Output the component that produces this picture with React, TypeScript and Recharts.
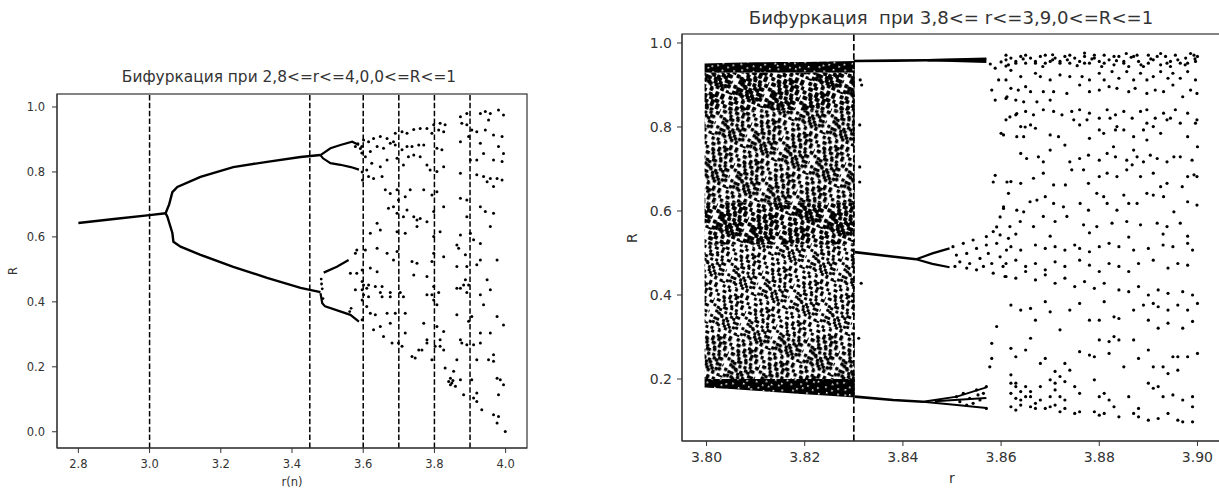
import React from 'react';
import { ComposedChart, Scatter, Area, XAxis, YAxis, ReferenceLine } from 'recharts';

type Pt = [number, number];

// ---------- left panel: 2.8 <= r <= 4.0 ----------
const leftTicksX = [2.8, 3.0, 3.2, 3.4, 3.6, 3.8, 4.0];
const leftTicksY = [0.0, 0.2, 0.4, 0.6, 0.8, 1.0];
const leftMarkers = [3.0, 3.45, 3.6, 3.7, 3.8, 3.9];

// stable fixed point and the period-doubling branches
const leftFixed: Pt[] = [[2.8, 0.643], [2.9, 0.655], [3.0, 0.667], [3.045, 0.673]];
const leftUpper: Pt[] = [[3.045, 0.673], [3.055, 0.70], [3.064, 0.738], [3.078, 0.754], [3.143, 0.785], [3.235, 0.815], [3.33, 0.831], [3.424, 0.846], [3.48, 0.852]];
const leftLower: Pt[] = [[3.045, 0.673], [3.05, 0.662], [3.064, 0.612], [3.067, 0.585], [3.087, 0.57], [3.143, 0.545], [3.235, 0.508], [3.33, 0.474], [3.424, 0.443], [3.48, 0.43]];
const leftUpperHi: Pt[] = [[3.48, 0.852], [3.508, 0.873], [3.536, 0.883], [3.569, 0.893], [3.588, 0.883]];
const leftUpperLo: Pt[] = [[3.48, 0.852], [3.487, 0.842], [3.508, 0.827], [3.536, 0.822], [3.565, 0.815], [3.588, 0.807]];
const leftLowerHi: Pt[] = [[3.489, 0.49], [3.526, 0.508], [3.559, 0.529]];
const leftLowerLo: Pt[] = [[3.48, 0.427], [3.485, 0.396], [3.493, 0.386], [3.564, 0.36], [3.588, 0.339]];
const leftTransient: Pt[] = [[3.482, 0.47], [3.483, 0.455], [3.485, 0.44], [3.487, 0.41], [3.562, 0.37], [3.566, 0.38]];

// chaotic part, one dot per iterate
const leftChaos: Pt[] = [
  [3.596, 0.878], [3.596, 0.858], [3.597, 0.8], [3.598, 0.775], [3.597, 0.437], [3.597, 0.406], [3.597, 0.345],
  [3.585, 0.887], [3.592, 0.872], [3.578, 0.878],
  [3.601, 0.898], [3.615, 0.893], [3.629, 0.903], [3.648, 0.909], [3.667, 0.903], [3.685, 0.893], [3.69, 0.919], [3.709, 0.924],
  [3.723, 0.919], [3.742, 0.931], [3.76, 0.934], [3.779, 0.934], [3.798, 0.945], [3.816, 0.95], [3.83, 0.945], [3.826, 0.924],
  [3.812, 0.929], [3.793, 0.919], [3.77, 0.883], [3.756, 0.883], [3.737, 0.878], [3.723, 0.878], [3.709, 0.868], [3.69, 0.883],
  [3.676, 0.888], [3.657, 0.873], [3.639, 0.878], [3.62, 0.863], [3.606, 0.847], [3.624, 0.827], [3.648, 0.816], [3.667, 0.837],
  [3.695, 0.842], [3.713, 0.821], [3.727, 0.847], [3.742, 0.852], [3.76, 0.847], [3.779, 0.821], [3.788, 0.806], [3.807, 0.801],
  [3.826, 0.816], [3.807, 0.873], [3.821, 0.868], [3.61, 0.806], [3.615, 0.786], [3.629, 0.78], [3.653, 0.786], [3.662, 0.745],
  [3.676, 0.734], [3.695, 0.745], [3.699, 0.714], [3.718, 0.724], [3.732, 0.745], [3.671, 0.688], [3.685, 0.693], [3.695, 0.673],
  [3.713, 0.662], [3.723, 0.683], [3.742, 0.662], [3.751, 0.652], [3.76, 0.657], [3.779, 0.647], [3.798, 0.678], [3.826, 0.693],
  [3.793, 0.729], [3.807, 0.739], [3.77, 0.745], [3.639, 0.642], [3.648, 0.621], [3.62, 0.611], [3.695, 0.616], [3.718, 0.611],
  [3.751, 0.632], [3.798, 0.601], [3.816, 0.616], [3.606, 0.56], [3.639, 0.565], [3.667, 0.55], [3.695, 0.555], [3.685, 0.529],
  [3.737, 0.524], [3.751, 0.519], [3.793, 0.524], [3.798, 0.55], [3.826, 0.539], [3.582, 0.56], [3.578, 0.55], [3.564, 0.488],
  [3.582, 0.488], [3.597, 0.498], [3.62, 0.504], [3.639, 0.493], [3.61, 0.442], [3.648, 0.429], [3.676, 0.429], [3.704, 0.429],
  [3.742, 0.483], [3.779, 0.478], [3.798, 0.447], [3.812, 0.429], [3.578, 0.437], [3.597, 0.463],
  [3.873, 0.97], [3.891, 0.98], [3.877, 0.95], [3.891, 0.945], [3.929, 0.98], [3.943, 0.986], [3.957, 0.98], [3.98, 0.991],
  [3.994, 0.975], [3.952, 0.96], [3.905, 0.929], [3.896, 0.909], [3.919, 0.924], [3.943, 0.929], [3.966, 0.914], [3.99, 0.909],
  [3.873, 0.893], [3.929, 0.888], [3.98, 0.878], [3.901, 0.837], [3.919, 0.837], [3.938, 0.857], [3.966, 0.837], [3.994, 0.857],
  [3.99, 0.832], [3.873, 0.796], [3.919, 0.791], [3.938, 0.786], [3.957, 0.78], [3.976, 0.78], [3.99, 0.775], [3.948, 0.77],
  [3.966, 0.755], [3.873, 0.719], [3.891, 0.714], [3.929, 0.693], [3.943, 0.678], [3.966, 0.673], [3.891, 0.662], [3.957, 0.632],
  [3.873, 0.606], [3.901, 0.611], [3.91, 0.591], [3.929, 0.58], [3.863, 0.575], [3.868, 0.565], [3.887, 0.545], [3.929, 0.529],
  [3.976, 0.529], [3.863, 0.509], [3.891, 0.509], [3.919, 0.514], [3.887, 0.468], [3.948, 0.468], [3.873, 0.442], [3.891, 0.429],
  [3.957, 0.437],
  [3.601, 0.452], [3.615, 0.452], [3.634, 0.447], [3.653, 0.447], [3.601, 0.422], [3.615, 0.416], [3.653, 0.416], [3.676, 0.416],
  [3.61, 0.386], [3.62, 0.365], [3.634, 0.36], [3.667, 0.365], [3.648, 0.324], [3.629, 0.314], [3.676, 0.334], [3.69, 0.365],
  [3.713, 0.416], [3.718, 0.365], [3.718, 0.304], [3.699, 0.273], [3.709, 0.263], [3.657, 0.293], [3.681, 0.273], [3.737, 0.232],
  [3.746, 0.227], [3.756, 0.252], [3.765, 0.252], [3.779, 0.273], [3.779, 0.283], [3.77, 0.334], [3.779, 0.422], [3.793, 0.422],
  [3.798, 0.406], [3.807, 0.391], [3.807, 0.324], [3.826, 0.309], [3.816, 0.283], [3.816, 0.263], [3.802, 0.263], [3.793, 0.222],
  [3.826, 0.252], [3.863, 0.442], [3.882, 0.452], [3.896, 0.452], [3.929, 0.422], [3.938, 0.391], [3.863, 0.36], [3.896, 0.34],
  [3.905, 0.355], [3.873, 0.283], [3.877, 0.273], [3.891, 0.268], [3.91, 0.268], [3.929, 0.273], [3.929, 0.304], [3.957, 0.304],
  [3.976, 0.355], [3.994, 0.329], [3.952, 0.222], [3.966, 0.237], [3.966, 0.217], [3.919, 0.222], [3.863, 0.222], [3.83, 0.196],
  [3.854, 0.186], [3.84, 0.155], [3.849, 0.15], [3.859, 0.14], [3.873, 0.16], [3.882, 0.114], [3.905, 0.16], [3.919, 0.119],
  [3.933, 0.068], [3.976, 0.165], [3.994, 0.145], [3.985, 0.16], [3.98, 0.114], [3.966, 0.052], [3.98, 0.047], [3.976, 0.027],
  [3.999, 0.001], [3.91, 0.104], [3.919, 0.093], [3.845, 0.165], [3.852, 0.158], [3.845, 0.145],
];

// ---------- right panel: 3.8 <= r <= 3.9 ----------
const rightTicksX = [3.8, 3.82, 3.84, 3.86, 3.88, 3.9];
const rightTicksY = [0.2, 0.4, 0.6, 0.8, 1.0];
const rightMarkers = [3.83];

// saturated chaotic block before the period-3 window: r, lower edge, upper edge
const denseBand: [number, number, number][] = [
  [3.7996, 0.18, 0.951], [3.805, 0.176, 0.953], [3.81, 0.172, 0.954], [3.815, 0.168, 0.955],
  [3.82, 0.164, 0.955], [3.825, 0.16, 0.956], [3.8302, 0.156, 0.957],
];
// how crowded the iterates are inside that block, by R range
const denseLayers: [number, number, string][] = [
  [0.93, 1.0, 'solid'], [0.84, 0.93, 'heavy'], [0.62, 0.84, 'mid'], [0.52, 0.62, 'heavy'],
  [0.3, 0.52, 'light'], [0.2, 0.3, 'mid'], [0.0, 0.2, 'solid'],
];

// period-3 window branches
const rightTop: Pt[] = [[3.83, 0.957], [3.838, 0.958], [3.845, 0.959], [3.857, 0.96]];
const rightTopHi: Pt[] = [[3.845, 0.959], [3.857, 0.963]];
const rightTopLo: Pt[] = [[3.845, 0.959], [3.857, 0.955]];
const rightMid: Pt[] = [[3.8302, 0.502], [3.836, 0.494], [3.8427, 0.485]];
const rightMidHi: Pt[] = [[3.8427, 0.485], [3.846, 0.499], [3.8495, 0.511]];
const rightMidLo: Pt[] = [[3.8427, 0.485], [3.846, 0.474], [3.8495, 0.466]];
const rightLow: Pt[] = [[3.8302, 0.158], [3.838, 0.15], [3.8441, 0.146]];
const rightLowHi: Pt[] = [[3.8441, 0.146], [3.851, 0.158], [3.857, 0.18]];
const rightLowLo: Pt[] = [[3.8441, 0.146], [3.851, 0.138], [3.857, 0.131]];
const rightLowMid: Pt[] = [[3.8465, 0.147], [3.857, 0.155]];

const rightChaos: Pt[] = [
  // transients along r = 3.83
  [3.8313, 0.912], [3.8316, 0.9], [3.8312, 0.805], [3.8312, 0.705], [3.8312, 0.669], [3.8315, 0.428], [3.831, 0.297],
  // window break-up, middle and lower branches
  [3.8502, 0.515], [3.8509, 0.495], [3.8516, 0.479], [3.8506, 0.468], [3.8523, 0.523], [3.853, 0.499], [3.8536, 0.475],
  [3.8543, 0.531], [3.855, 0.511], [3.8557, 0.487], [3.8564, 0.468], [3.857, 0.539], [3.8574, 0.499], [3.8581, 0.475],
  [3.8584, 0.452], [3.8591, 0.523], [3.8598, 0.491], [3.8604, 0.468], [3.8608, 0.444], [3.8598, 0.543], [3.8611, 0.507],
  [3.8615, 0.535], [3.855, 0.46], [3.853, 0.464], [3.8584, 0.551], [3.857, 0.519],
  [3.8509, 0.158], [3.8523, 0.166], [3.8536, 0.154], [3.855, 0.174], [3.8557, 0.15], [3.8564, 0.166], [3.857, 0.182],
  [3.857, 0.13], [3.8543, 0.142], [3.8516, 0.146], [3.853, 0.138], [3.8553, 0.162],
  [3.8591, 0.325], [3.8581, 0.285], [3.8581, 0.249], [3.8577, 0.229],
  [3.8595, 0.912], [3.8581, 0.888], [3.8612, 0.872], [3.8588, 0.864], [3.8618, 0.824], [3.8605, 0.781], [3.8635, 0.888],
  [3.8632, 0.777], [3.8588, 0.685], [3.8584, 0.669], [3.8612, 0.669], [3.8615, 0.642], [3.8605, 0.61], [3.8598, 0.586],
  [3.8591, 0.562], [3.8632, 0.832], [3.8649, 0.8], [3.8578, 0.95], [3.8588, 0.94], [3.86, 0.955], [3.861, 0.945], [3.862, 0.935],
  // fully chaotic region, upper band
  [3.861, 0.96], [3.862, 0.964], [3.863, 0.956], [3.864, 0.968], [3.865, 0.952], [3.866, 0.964], [3.867, 0.956], [3.868, 0.968],
  [3.869, 0.952], [3.871, 0.964], [3.872, 0.956], [3.873, 0.968], [3.874, 0.952], [3.875, 0.964], [3.876, 0.956], [3.877, 0.968],
  [3.878, 0.952], [3.879, 0.964], [3.88, 0.956], [3.881, 0.971], [3.882, 0.96], [3.883, 0.948], [3.884, 0.968], [3.885, 0.956],
  [3.886, 0.944], [3.887, 0.968], [3.888, 0.956], [3.889, 0.944], [3.89, 0.971], [3.891, 0.96], [3.8925, 0.948], [3.8935, 0.968],
  [3.8945, 0.956], [3.8955, 0.971], [3.8965, 0.952], [3.8976, 0.964], [3.8986, 0.975], [3.8996, 0.956], [3.9, 0.968],
  [3.861, 0.971], [3.863, 0.952], [3.865, 0.971], [3.867, 0.952], [3.869, 0.971], [3.87, 0.956], [3.872, 0.952], [3.874, 0.971],
  [3.877, 0.952], [3.879, 0.971], [3.881, 0.952], [3.883, 0.968], [3.885, 0.952], [3.8877, 0.971], [3.89, 0.952], [3.8918, 0.968],
  [3.8938, 0.952], [3.896, 0.96], [3.898, 0.952], [3.8993, 0.971],
  [3.8615, 0.948], [3.8645, 0.962], [3.8685, 0.944], [3.8705, 0.972], [3.8735, 0.96], [3.8755, 0.946], [3.8785, 0.962],
  [3.8805, 0.944], [3.8835, 0.958], [3.8865, 0.966], [3.8885, 0.948], [3.8905, 0.962], [3.8945, 0.944], [3.8975, 0.948],
  [3.8995, 0.962], [3.8925, 0.975], [3.8855, 0.975], [3.877, 0.976], [3.8705, 0.96],
  [3.861, 0.912], [3.864, 0.92], [3.867, 0.928], [3.868, 0.92], [3.87, 0.912], [3.872, 0.924], [3.874, 0.92], [3.8765, 0.92],
  [3.878, 0.912], [3.88, 0.928], [3.881, 0.912], [3.8826, 0.932], [3.884, 0.916], [3.8856, 0.932], [3.887, 0.912], [3.8884, 0.928],
  [3.8897, 0.912], [3.891, 0.92], [3.8925, 0.932], [3.894, 0.916], [3.895, 0.928], [3.8965, 0.916], [3.898, 0.932], [3.8996, 0.912],
  [3.862, 0.892], [3.865, 0.896], [3.866, 0.884], [3.8686, 0.884], [3.8707, 0.884], [3.8734, 0.88], [3.876, 0.9], [3.878, 0.884],
  [3.88, 0.888], [3.882, 0.896], [3.8836, 0.892], [3.886, 0.884], [3.8873, 0.892], [3.8897, 0.88], [3.8914, 0.888], [3.8931, 0.884],
  [3.895, 0.9], [3.897, 0.872], [3.8986, 0.888], [3.8999, 0.88], [3.863, 0.864], [3.8646, 0.86], [3.8673, 0.86], [3.87, 0.864],
  [3.861, 0.868],
  [3.861, 0.817], [3.863, 0.829], [3.865, 0.837], [3.8666, 0.829], [3.8686, 0.841], [3.8707, 0.837], [3.8724, 0.829], [3.8744, 0.837],
  [3.876, 0.841], [3.878, 0.833], [3.88, 0.821], [3.8816, 0.841], [3.8833, 0.829], [3.885, 0.837], [3.8867, 0.821], [3.8884, 0.837],
  [3.8897, 0.841], [3.8914, 0.821], [3.8931, 0.833], [3.8945, 0.821], [3.8955, 0.841], [3.898, 0.833], [3.8999, 0.817],
  [3.864, 0.801], [3.866, 0.805], [3.867, 0.797], [3.8748, 0.817], [3.876, 0.805], [3.8775, 0.817], [3.88, 0.793], [3.8822, 0.821],
  [3.8836, 0.801], [3.8897, 0.809], [3.891, 0.801], [3.8938, 0.817], [3.8965, 0.809], [3.8996, 0.809], [3.86, 0.785], [3.8646, 0.777],
  [3.87, 0.781], [3.8717, 0.777], [3.878, 0.773], [3.8809, 0.785], [3.8833, 0.793], [3.885, 0.793], [3.887, 0.777], [3.889, 0.793],
  [3.8925, 0.785], [3.898, 0.777], [3.9, 0.753], [3.8897, 0.769],
  [3.864, 0.737], [3.8652, 0.725], [3.8676, 0.729], [3.8686, 0.717], [3.87, 0.745], [3.873, 0.757], [3.874, 0.717], [3.876, 0.725],
  [3.8778, 0.733], [3.88, 0.721], [3.8816, 0.737], [3.8829, 0.753], [3.8833, 0.729], [3.8856, 0.721], [3.887, 0.745], [3.8877, 0.729],
  [3.889, 0.717], [3.8904, 0.733], [3.8918, 0.725], [3.8938, 0.717], [3.8952, 0.729], [3.8965, 0.729], [3.8989, 0.721],
  [3.862, 0.67], [3.864, 0.666], [3.8666, 0.678], [3.8686, 0.69], [3.8707, 0.662], [3.8731, 0.662], [3.8744, 0.698], [3.8768, 0.698],
  [3.8778, 0.666], [3.88, 0.682], [3.8816, 0.69], [3.8836, 0.682], [3.8856, 0.698], [3.8867, 0.71], [3.8884, 0.682], [3.891, 0.69],
  [3.8925, 0.658], [3.8938, 0.666], [3.8969, 0.658], [3.898, 0.682], [3.8993, 0.686], [3.8999, 0.682],
  [3.8605, 0.606], [3.8632, 0.602], [3.8646, 0.598], [3.8659, 0.622], [3.8673, 0.626], [3.869, 0.634], [3.8707, 0.618], [3.8727, 0.61],
  [3.8734, 0.587], [3.8761, 0.618], [3.8778, 0.602], [3.8795, 0.642], [3.8809, 0.634], [3.8816, 0.618], [3.8836, 0.602], [3.885, 0.638],
  [3.886, 0.618], [3.8877, 0.618], [3.8897, 0.642], [3.891, 0.638], [3.8931, 0.634], [3.8952, 0.598], [3.898, 0.622], [3.8999, 0.614],
  [3.8618, 0.563], [3.8639, 0.575], [3.8666, 0.563], [3.8686, 0.587], [3.871, 0.575], [3.8768, 0.567], [3.8795, 0.563], [3.8826, 0.571],
  [3.8856, 0.575], [3.8884, 0.567], [3.8918, 0.571], [3.8938, 0.563], [3.8965, 0.571],
  [3.863, 0.545], [3.87, 0.54], [3.878, 0.548], [3.886, 0.538], [3.893, 0.545], [3.898, 0.54],
  // lower half
  [3.862, 0.515], [3.864, 0.507], [3.867, 0.519], [3.869, 0.511], [3.871, 0.515], [3.873, 0.507], [3.875, 0.519], [3.876, 0.511],
  [3.878, 0.503], [3.88, 0.515], [3.882, 0.523], [3.884, 0.515], [3.887, 0.507], [3.89, 0.511], [3.893, 0.519], [3.895, 0.515],
  [3.898, 0.523], [3.899, 0.507],
  [3.861, 0.475], [3.863, 0.483], [3.865, 0.468], [3.867, 0.475], [3.869, 0.46], [3.871, 0.479], [3.873, 0.468], [3.876, 0.483],
  [3.878, 0.471], [3.88, 0.456], [3.882, 0.475], [3.884, 0.468], [3.886, 0.456], [3.888, 0.475], [3.891, 0.483], [3.894, 0.464],
  [3.896, 0.475], [3.898, 0.471],
  [3.861, 0.444], [3.863, 0.44], [3.865, 0.456], [3.867, 0.436], [3.869, 0.448], [3.871, 0.428], [3.873, 0.44], [3.875, 0.42],
  [3.877, 0.432], [3.879, 0.416], [3.881, 0.428], [3.884, 0.412], [3.886, 0.408], [3.888, 0.42], [3.89, 0.4], [3.892, 0.412],
  [3.894, 0.404], [3.897, 0.408], [3.899, 0.4],
  [3.862, 0.376], [3.864, 0.364], [3.866, 0.368], [3.867, 0.34], [3.869, 0.384], [3.87, 0.36], [3.872, 0.317], [3.874, 0.364],
  [3.876, 0.38], [3.878, 0.34], [3.88, 0.34], [3.881, 0.384], [3.883, 0.348], [3.884, 0.344], [3.887, 0.364], [3.889, 0.376],
  [3.891, 0.38], [3.892, 0.372], [3.894, 0.364], [3.896, 0.376], [3.898, 0.364], [3.9, 0.38], [3.89, 0.34], [3.892, 0.321],
  [3.894, 0.333], [3.897, 0.321], [3.899, 0.337],
  [3.862, 0.273], [3.863, 0.253], [3.865, 0.269], [3.866, 0.297], [3.868, 0.237], [3.869, 0.249], [3.871, 0.218], [3.873, 0.237],
  [3.874, 0.221], [3.876, 0.265], [3.878, 0.257], [3.879, 0.253], [3.88, 0.293], [3.882, 0.289], [3.883, 0.301], [3.884, 0.293],
  [3.887, 0.293], [3.888, 0.249], [3.89, 0.269], [3.891, 0.229], [3.893, 0.229], [3.895, 0.253], [3.896, 0.253], [3.898, 0.253],
  [3.9, 0.261], [3.882, 0.261], [3.885, 0.229],
  [3.862, 0.21], [3.863, 0.19], [3.864, 0.17], [3.865, 0.182], [3.866, 0.158], [3.868, 0.182], [3.87, 0.198], [3.871, 0.174],
  [3.872, 0.158], [3.873, 0.194], [3.875, 0.182], [3.876, 0.166], [3.879, 0.198], [3.88, 0.158], [3.881, 0.166], [3.882, 0.15],
  [3.883, 0.134], [3.886, 0.158], [3.888, 0.13], [3.89, 0.19], [3.891, 0.178], [3.893, 0.158], [3.895, 0.162], [3.897, 0.15],
  [3.899, 0.158], [3.894, 0.213], [3.896, 0.221], [3.892, 0.182],
  [3.862, 0.134], [3.863, 0.126], [3.864, 0.138], [3.866, 0.134], [3.867, 0.13], [3.869, 0.13], [3.871, 0.138], [3.872, 0.122],
  [3.873, 0.13], [3.875, 0.118], [3.876, 0.122], [3.879, 0.122], [3.88, 0.114], [3.881, 0.118], [3.884, 0.11], [3.887, 0.118],
  [3.888, 0.11], [3.89, 0.102], [3.892, 0.106], [3.894, 0.118], [3.896, 0.102], [3.897, 0.098], [3.899, 0.098], [3.899, 0.134],
  [3.862, 0.166], [3.863, 0.182], [3.862, 0.19], [3.863, 0.154], [3.864, 0.15], [3.865, 0.158], [3.866, 0.17], [3.867, 0.142],
  [3.868, 0.15], [3.87, 0.158], [3.871, 0.19], [3.872, 0.206], [3.873, 0.15], [3.87, 0.134],
];

// halftone tile used to shade the saturated block (tile is 34 x 44 px)
const speck: Pt[] = [
  [2, 1], [9, 3], [15, 0], [22, 2], [28, 4], [5, 6], [12, 8], [19, 6], [25, 9], [0, 11], [7, 12], [14, 13], [21, 11], [27, 15],
  [3, 16], [10, 18], [17, 17], [23, 19], [30, 20], [1, 22], [8, 24], [13, 21], [19, 24], [26, 25], [5, 27], [11, 29], [17, 30],
  [24, 28], [29, 31], [2, 33], [9, 34], [15, 33], [21, 35], [27, 36], [6, 38], [12, 39], [18, 38], [25, 40], [31, 41], [0, 42],
];
const toneSize: Record<string, number> = { heavy: 3.9, mid: 3.4, light: 3.1 };

const rows = (pts: Pt[]) => pts.map(([r, R]) => ({ r, R }));

const INK = '#000';
const AXIS = '#333';
const FONT = '"DejaVu Sans", sans-serif';

// panel layout: chart box, margins and axis sizes
type Layout = { left: number; w: number; h: number; top: number; right: number; yAxisW: number; xAxisH: number };
const leftLayout: Layout = { left: 0, w: 540, h: 491, top: 94, right: 13, yAxisW: 57, xAxisH: 43 };
const rightLayout: Layout = { left: 620, w: 620, h: 491, top: 34, right: 18, yAxisW: 62, xAxisH: 50 };

const makeDot = (size: number) => (props: any) =>
  props.cx == null ? <g /> : <circle cx={props.cx} cy={props.cy} r={size} fill={INK} />;
const NoDot = () => <g />;

const branch = (pts: Pt[], key: string, width: number) => (
  <Scatter
    key={key}
    data={rows(pts)}
    shape={NoDot}
    line={{ stroke: INK, strokeWidth: width }}
    lineType="joint"
    isAnimationActive={false}
  />
);

// closed box around a panel's plot area, drawn from its layout
function PlotBox({ l }: { l: Layout }) {
  const x = l.left + l.yAxisW;
  const pw = l.w - l.yAxisW - l.right;
  const ph = l.h - l.top - l.xAxisH;
  return <rect x={x} y={l.top} width={pw} height={ph} fill="none" stroke={AXIS} strokeWidth={1.2} />;
}

function TonePattern({ tone }: { tone: string }) {
  if (tone === 'solid') {
    return (
      <pattern id="tone-solid" width={34} height={44} patternUnits="userSpaceOnUse" patternTransform="rotate(23)">
        <rect width={34} height={44} fill={INK} />
        {speck.map(([x, y], i) => (
          <rect key={i} x={x} y={y} width={1.6} height={1.6} fill="#fff" />
        ))}
      </pattern>
    );
  }
  const s = toneSize[tone];
  return (
    <pattern id={'tone-' + tone} width={34} height={44} patternUnits="userSpaceOnUse" patternTransform="rotate(23)">
      {speck.map(([x, y], i) => (
        <React.Fragment key={i}>
          <rect x={x} y={y} width={s} height={s} rx={0.8} fill={INK} />
          <rect x={33 - x} y={(y + 19) % 44} width={s} height={s} rx={0.8} fill={INK} />
        </React.Fragment>
      ))}
    </pattern>
  );
}

function LeftPanel() {
  const l = leftLayout;
  const domX: [number, number] = [2.74, 4.06];
  const domY: [number, number] = [-0.05, 1.04];
  const tick = { fontSize: 11.5, fill: AXIS, fontFamily: FONT };
  return (
    <ComposedChart width={l.w} height={l.h} margin={{ top: l.top, right: l.right, bottom: 0, left: 0 }}>
      <XAxis dataKey="r" type="number" domain={domX} ticks={leftTicksX} interval={0} allowDataOverflow
        tickFormatter={(v: number) => v.toFixed(1)} height={l.xAxisH} tickSize={5} tickMargin={7} stroke={AXIS} tick={tick} />
      <YAxis dataKey="R" type="number" domain={domY} ticks={leftTicksY} interval={0} allowDataOverflow
        tickFormatter={(v: number) => v.toFixed(1)} width={l.yAxisW} tickSize={5} tickMargin={7} stroke={AXIS} tick={tick} />
      {branch(leftFixed, 'fixed', 2.4)}
      {branch(leftUpper, 'up', 2.4)}
      {branch(leftLower, 'low', 2.4)}
      {branch(leftUpperHi, 'upHi', 2.2)}
      {branch(leftUpperLo, 'upLo', 2.2)}
      {branch(leftLowerHi, 'lowHi', 2.2)}
      {branch(leftLowerLo, 'lowLo', 2.2)}
      <Scatter data={rows(leftTransient)} shape={makeDot(1.4)} isAnimationActive={false} />
      <Scatter data={rows(leftChaos)} shape={makeDot(1.5)} isAnimationActive={false} />
      {leftMarkers.map((m) => (
        <ReferenceLine key={m} x={m} stroke={INK} strokeWidth={1.5} strokeDasharray="5.5 2.4" />
      ))}
    </ComposedChart>
  );
}

function RightPanel() {
  const l = rightLayout;
  const domX: [number, number] = [3.795, 3.905];
  const domY: [number, number] = [0.0524, 1.0214];
  const tick = { fontSize: 14, fill: AXIS, fontFamily: FONT };
  // one range per density layer, clipped to the block's edges
  const band = denseBand.map(([r, lo, hi]) => {
    const row: Record<string, any> = { r };
    denseLayers.forEach(([a, b], i) => {
      row['b' + i] = [Math.max(a, lo), Math.min(b, hi)];
    });
    return row;
  });
  const tones = ['solid', 'heavy', 'mid', 'light'];
  return (
    <ComposedChart width={l.w} height={l.h} data={band} margin={{ top: l.top, right: l.right, bottom: 0, left: 0 }}>
      <defs>
        {tones.map((t) => (
          <TonePattern key={t} tone={t} />
        ))}
      </defs>
      <XAxis dataKey="r" type="number" domain={domX} ticks={rightTicksX} interval={0} allowDataOverflow
        tickFormatter={(v: number) => v.toFixed(2)} height={l.xAxisH} tickSize={5} tickMargin={6} stroke={AXIS} tick={tick} />
      <YAxis dataKey="R" type="number" domain={domY} ticks={rightTicksY} interval={0} allowDataOverflow
        tickFormatter={(v: number) => v.toFixed(1)} width={l.yAxisW} tickSize={5} tickMargin={5} stroke={AXIS} tick={tick} />
      {denseLayers.map(([, , tone], i) => (
        <Area key={'b' + i} dataKey={'b' + i} type="linear" stroke="none" fill={`url(#tone-${tone})`}
          fillOpacity={1} isAnimationActive={false} />
      ))}
      {branch(rightTop, 'top', 2.6)}
      {branch(rightTopHi, 'topHi', 2.2)}
      {branch(rightTopLo, 'topLo', 2.2)}
      {branch(rightMid, 'mid', 2.6)}
      {branch(rightMidHi, 'midHi', 2.2)}
      {branch(rightMidLo, 'midLo', 2.2)}
      {branch(rightLow, 'low', 2.6)}
      {branch(rightLowHi, 'lowHi', 2)}
      {branch(rightLowLo, 'lowLo', 2)}
      {branch(rightLowMid, 'lowMid', 2)}
      <Scatter data={rows(rightChaos)} shape={makeDot(1.6)} isAnimationActive={false} />
      {rightMarkers.map((m) => (
        <ReferenceLine key={m} x={m} stroke={INK} strokeWidth={1.7} strokeDasharray="6.5 2.8" />
      ))}
    </ComposedChart>
  );
}

export default function App() {
  return (
    <div style={{ position: 'fixed', left: 0, top: 0, width: 1219, height: 491, overflow: 'hidden', background: '#fff', fontFamily: FONT }}>
      <div style={{ position: 'absolute', left: leftLayout.left, top: 0 }}>
        <LeftPanel />
      </div>
      <div style={{ position: 'absolute', left: rightLayout.left, top: 0 }}>
        <RightPanel />
      </div>
      <svg width={1219} height={491} style={{ position: 'absolute', left: 0, top: 0, pointerEvents: 'none' }}>
        <PlotBox l={leftLayout} />
        <PlotBox l={rightLayout} />
        <g fontFamily={FONT} fill={AXIS}>
          <text x={289} y={82} fontSize={15.4} textAnchor="middle" style={{ whiteSpace: 'pre' }}>
            Бифуркация при 2,8&lt;=r&lt;=4,0,0&lt;=R&lt;=1
          </text>
          <text x={292} y={486} fontSize={11.5} textAnchor="middle">r(n)</text>
          <text x={17} y={271} fontSize={11.5} textAnchor="middle" transform="rotate(-90 17 271)">R</text>
          <text x={951} y={24} fontSize={18.1} textAnchor="middle" style={{ whiteSpace: 'pre' }}>
            {'Бифуркация  при 3,8<= r<=3,9,0<=R<=1'}
          </text>
          <text x={952} y={483} fontSize={14} textAnchor="middle">r</text>
          <text x={637} y={238} fontSize={14} textAnchor="middle" transform="rotate(-90 637 238)">R</text>
        </g>
      </svg>
    </div>
  );
}
